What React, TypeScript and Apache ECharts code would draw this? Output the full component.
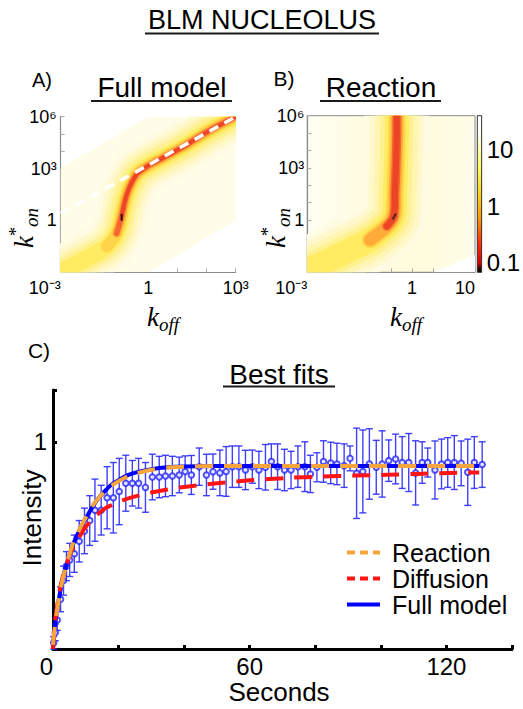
import React, { useEffect, useRef } from 'react';
import * as echarts from 'echarts';

const FONT = 'Liberation Sans, Arial, Helvetica, sans-serif';
const SERIF = 'Liberation Serif, DejaVu Serif, serif';

// ---------- Panel A (Full model) : misfit landscape ----------
const ridgeAKoff = [0.001, 0.006, 0.038, 0.083, 0.12, 0.14, 0.17, 0.24, 0.42, 0.9, 3.5, 16, 120, 1000];
const ridgeAKon = [0.001, 0.005, 0.031, 0.18, 1.5, 5, 20, 100, 500, 1300, 4500, 18600, 1.5e5, 1e6];
const domainAKoff = [0.001, 0.001, 1, 1000, 1000, 1];
const domainAKon = [0.001, 1000, 1e6, 1e6, 1, 0.001];
const dashedAKoff = [0.001, 1000];
const dashedAKon = [2.5, 1e6];
const bestAKoff = [0.123];
const bestAKon = [1.5];
const aXTickVals = [1e-3, 1, 1e3];
const aXTickText = ['10⁻³', '1', '10³'];
const kTickVals = [1, 1e3, 1e6];
const kTickText = ['1', '10³', '10⁶'];

// ---------- Panel B (Reaction) ----------
const ridgeBKoffPos = [0, 0.8, 1.72, 3.0, 3.79, 4.12, 4.18, 4.24, 4.27, 4.27];
const ridgeBKon = [0.00135, 0.0035, 0.0126, 0.074, 0.44, 1.66, 37, 3000, 1e5, 1e6];
const bestBKoffPos = [4.15];
const bestBKon = [1.6];
const cornerBKoffPos = [6, 8, 8];
const cornerBKon = [0.001, 0.001, 0.01];
const bXTickVals = [0, 5, 8];
const bXTickText = ['10⁻³', '1', '10'];
const cbTickVals = [0.1, 1, 10];
const cbTickText = ['0.1', '1', '10'];

// ---------- Panel C (Best fits) ----------
const timeSec = [0.2, 0.7, 1.3, 2.3, 3.2, 4.1, 5.1, 6.5, 8.0, 9.6, 11.2, 12.8, 14.7, 16.5, 18.4, 20.2, 22.2, 24.2, 26.1, 28.2, 30.3, 32.4, 34.3, 36.4, 38.5, 40.3, 42.2, 44.6, 46.8, 48.8, 50.9, 52.8, 54.7, 56.7, 58.7, 60.8, 62.8, 64.8, 66.6, 68.5, 70.6, 72.6, 74.7, 76.8, 78.5, 80.5, 82.5, 84.7, 86.6, 88.8, 90.6, 92.6, 94.5, 96.5, 98.6, 100.4, 102.4, 104.5, 106.5, 108.5, 110.6, 112.6, 114.3, 116.5, 118.5, 120.4, 122.4, 124.5, 126.5, 128.5, 130.9];
const meanInt = [0.03, 0.08, 0.14, 0.24, 0.33, 0.40, 0.43, 0.46, 0.52, 0.57, 0.62, 0.67, 0.67, 0.73, 0.73, 0.76, 0.80, 0.80, 0.80, 0.78, 0.83, 0.83, 0.835, 0.835, 0.84, 0.857, 0.84, 0.88, 0.84, 0.856, 0.85, 0.857, 0.88, 0.88, 0.864, 0.88, 0.864, 0.877, 0.905, 0.88, 0.864, 0.864, 0.88, 0.88, 0.845, 0.877, 0.905, 0.898, 0.893, 0.885, 0.92, 0.848, 0.857, 0.893, 0.877, 0.893, 0.909, 0.917, 0.90, 0.90, 0.85, 0.90, 0.90, 0.864, 0.893, 0.90, 0.90, 0.896, 0.853, 0.90, 0.89];
const errInt = [0.03, 0.04, 0.05, 0.06, 0.07, 0.07, 0.08, 0.09, 0.10, 0.11, 0.12, 0.15, 0.12, 0.15, 0.17, 0.16, 0.135, 0.11, 0.12, 0.12, 0.11, 0.10, 0.10, 0.095, 0.086, 0.075, 0.094, 0.09, 0.10, 0.085, 0.11, 0.12, 0.10, 0.10, 0.095, 0.08, 0.09, 0.11, 0.085, 0.11, 0.10, 0.09, 0.10, 0.12, 0.09, 0.07, 0.10, 0.10, 0.10, 0.105, 0.06, 0.218, 0.20, 0.17, 0.13, 0.16, 0.10, 0.12, 0.125, 0.14, 0.155, 0.10, 0.07, 0.14, 0.12, 0.12, 0.13, 0.108, 0.16, 0.125, 0.11];
const fitT = [0, 0.5, 1, 2, 3, 4, 5, 6, 8, 10, 12, 14, 16, 18, 20, 23, 26, 30, 35, 40, 50, 60, 72, 82, 92, 102, 111, 121, 130];
const fullModel = [0.0, 0.1, 0.16, 0.26, 0.34, 0.40, 0.45, 0.50, 0.57, 0.63, 0.685, 0.73, 0.765, 0.795, 0.815, 0.84, 0.855, 0.868, 0.877, 0.881, 0.883, 0.883, 0.883, 0.883, 0.883, 0.883, 0.883, 0.883, 0.883];
const reaction = [0.02, 0.1, 0.16, 0.26, 0.34, 0.40, 0.455, 0.505, 0.575, 0.635, 0.69, 0.73, 0.765, 0.79, 0.81, 0.835, 0.85, 0.865, 0.876, 0.88, 0.883, 0.883, 0.883, 0.883, 0.883, 0.883, 0.883, 0.883, 0.883];
const diffusion = [0.0, 0.12, 0.18, 0.28, 0.35, 0.40, 0.45, 0.485, 0.54, 0.59, 0.625, 0.655, 0.68, 0.695, 0.71, 0.727, 0.74, 0.755, 0.77, 0.782, 0.80, 0.814, 0.826, 0.832, 0.837, 0.841, 0.845, 0.85, 0.852];
const cXTickVals = [0, 60, 120];
const cYTickVals = [1];

// colour ramp of the glow around the ridges (outer -> inner), with stroke widths in px
const glowColors = ['#fffbe2', '#fff8cc', '#fff5b2', '#fff190', '#ffec62', '#ffd448', '#ffab3a', '#f5672e', '#ec4526'];
const glowWidthsA = [52, 42, 33, 25, 17, 12, 8.5, 5.5, 3.5];
const glowWidthsB = [66, 54, 43, 33, 24, 17, 12.5, 9, 6];
const glowStartA = [0, 0, 0, 0, 0, 2, 3, 3, 4];
const glowStartB = [0, 0, 0, 0, 0, 3, 3, 4, 4];

const near = (a: number, b: number) => Math.abs(a - b) < 1e-6 * Math.max(1, Math.abs(b));
const logFmt = (vals: number[], texts: string[]) => (v: number) => {
  const i = vals.findIndex((t) => Math.abs(Math.log10(v) - Math.log10(t)) < 1e-6);
  return i >= 0 ? texts[i] : '';
};
const linFmt = (vals: number[], texts: string[]) => (v: number) => {
  const i = vals.findIndex((t) => near(v, t));
  return i >= 0 ? texts[i] : '';
};
const pairs = (xs: number[], ys: number[], from = 0) => xs.slice(from).map((x, i) => [x, ys[from + i]]);

type Layer = { xs: number[]; ys: number[]; from?: number; width?: number; color: string; polygon?: boolean };

// One custom series per heat panel; layers are drawn through the axes (api.coord) and clipped to the grid.
function heatSeries(grid: number, layers: Layer[], z: number) {
  return {
    type: 'custom',
    xAxisIndex: grid,
    yAxisIndex: grid,
    data: [[layers[0].xs[0], layers[0].ys[0]]],
    silent: true,
    clip: true,
    z,
    renderItem: (_p: any, api: any) => ({
      type: 'group',
      children: layers.map((L) => {
        const from = L.from || 0;
        const pts = L.xs.slice(from).map((x, i) => api.coord([x, L.ys[from + i]]));
        if (L.polygon) return { type: 'polygon', shape: { points: pts }, style: { fill: L.color } };
        return {
          type: 'polyline',
          shape: { points: pts, smooth: 0.35 },
          style: { fill: null, stroke: L.color, lineWidth: L.width, lineCap: 'round', lineJoin: 'round' },
        };
      }),
    }),
  };
}
const ridgeLayers = (xs: number[], ys: number[], widths: number[], starts: number[]): Layer[] =>
  glowColors.map((color, i) => ({ xs, ys, from: starts[i], width: widths[i], color }));

const grayAxis = {
  axisLine: { show: true, onZero: false, lineStyle: { color: '#8a8a8a', width: 1.2 } },
  axisTick: { show: true, inside: true, length: 4, lineStyle: { color: '#aaaaaa', width: 1 } },
  splitLine: { show: false },
};
const tickFont = { fontSize: 18, color: '#000', fontFamily: FONT };

function buildOption() {
  const gText = (text: string, x: number, y: number, fontSize: number, rotation = 0) => ({
    type: 'text', x, y, rotation, silent: true,
    style: { text, fontSize, fontFamily: FONT, fill: '#000', align: 'center', verticalAlign: 'middle' },
  });
  const uLine = (x1: number, x2: number, y: number) => ({
    type: 'line', silent: true,
    shape: { x1, y1: y, x2, y2: y },
    style: { stroke: '#1a1a1a', lineWidth: 1.8 },
  });
  const kRich = {
    k: { fontSize: 27, fontStyle: 'italic', fontFamily: SERIF, lineHeight: 34, fill: '#000' },
    sup: { fontSize: 18, fontFamily: SERIF, lineHeight: 16, verticalAlign: 'top', fill: '#000' },
    sub: { fontSize: 19, fontStyle: 'italic', fontFamily: SERIF, lineHeight: 20, verticalAlign: 'bottom', fill: '#000' },
  };
  const kon = (x: number, y: number) => ({
    type: 'text', x, y, rotation: Math.PI / 2, silent: true,
    style: { text: '{k|k}{sup|*}{sub|on}', rich: kRich, align: 'center', verticalAlign: 'middle' },
  });
  const koff = (x: number, y: number) => ({
    type: 'text', x, y, silent: true,
    style: { text: '{k|k}{sub|off}', rich: kRich, align: 'center', verticalAlign: 'middle' },
  });

  const cbGradient = new echarts.graphic.LinearGradient(0, 0, 0, 1, [
    { offset: 0, color: '#ffffff' },
    { offset: 0.12, color: '#fffff0' },
    { offset: 0.33, color: '#ffff60' },
    { offset: 0.5, color: '#ffd21e' },
    { offset: 0.65, color: '#ff9a00' },
    { offset: 0.82, color: '#ff2a00' },
    { offset: 0.94, color: '#d80000' },
    { offset: 0.975, color: '#300000' },
    { offset: 1, color: '#000000' },
  ]);
  const bBg = new echarts.graphic.LinearGradient(0, 0, 1, 0, [
    { offset: 0, color: '#fffff4' },
    { offset: 0.4, color: '#fffbdc' },
    { offset: 0.65, color: '#fffbdc' },
    { offset: 1, color: '#fffde9' },
  ]);

  return {
    animation: false,
    backgroundColor: '#ffffff',
    grid: [
      { left: 60.7, top: 116.7, width: 175, height: 155.6 },
      { left: 307.3, top: 115.7, width: 167.7, height: 156.6, show: true, backgroundColor: bBg, borderColor: '#8a8a8a', borderWidth: 1 },
      { left: 477.3, top: 115.7, width: 5.6, height: 156.6, show: true, backgroundColor: cbGradient, borderColor: '#333', borderWidth: 1 },
      { left: 53, top: 390, width: 459, height: 259 },
    ],
    xAxis: [
      { gridIndex: 0, type: 'log', logBase: 10, min: 1e-3, max: 1e3, ...grayAxis,
        axisLabel: { ...tickFont, margin: 7, formatter: logFmt(aXTickVals, aXTickText), alignMinLabel: 'right' } },
      { gridIndex: 1, type: 'value', min: 0, max: 8, interval: 1, ...grayAxis,
        axisLabel: { ...tickFont, margin: 7, formatter: linFmt(bXTickVals, bXTickText), alignMinLabel: 'right', alignMaxLabel: 'right' } },
      { gridIndex: 2, type: 'value', min: 0, max: 1, show: false },
      { gridIndex: 3, type: 'value', min: 0, max: 140, interval: 20,
        axisLine: { show: true, onZero: false, lineStyle: { color: '#000', width: 3 } },
        axisTick: { show: true, inside: true, length: 4, lineStyle: { color: '#000', width: 3 } },
        splitLine: { show: false },
        axisLabel: { fontSize: 24, color: '#000', fontFamily: FONT, margin: 5, alignMinLabel: 'right',
          formatter: linFmt(cXTickVals, cXTickVals.map(String)) } },
    ],
    yAxis: [
      { gridIndex: 0, type: 'log', logBase: 10, min: 1e-3, max: 1e6, ...grayAxis,
        axisLabel: { ...tickFont, margin: 4, formatter: logFmt(kTickVals, kTickText) } },
      { gridIndex: 1, type: 'log', logBase: 10, min: 1e-3, max: 1e6, ...grayAxis,
        axisLabel: { ...tickFont, margin: 3, formatter: logFmt(kTickVals, kTickText) } },
      { gridIndex: 2, type: 'log', logBase: 10, min: 0.068, max: 40.5, position: 'right',
        axisLine: { show: false }, axisTick: { show: false }, splitLine: { show: false },
        axisLabel: { fontSize: 24, color: '#000', fontFamily: FONT, margin: 5, formatter: logFmt(cbTickVals, cbTickText) } },
      { gridIndex: 3, type: 'value', min: 0, max: 1.25, interval: 1,
        axisLine: { show: true, onZero: false, lineStyle: { color: '#000', width: 3 } },
        axisTick: { show: true, inside: true, length: 4, lineStyle: { color: '#000', width: 3 } },
        splitLine: { show: false },
        axisLabel: { fontSize: 24, color: '#000', fontFamily: FONT, margin: 6, formatter: linFmt(cYTickVals, ['1']) } },
    ],
    legend: {
      orient: 'vertical', left: 340, top: 535, itemWidth: 33, itemHeight: 14, itemGap: 1,
      selectedMode: false,
      textStyle: { fontSize: 25, color: '#000', fontFamily: FONT, lineHeight: 20, padding: [0, 0, 0, 7] },
      data: [
        { name: 'Reaction', itemStyle: { opacity: 0 }, lineStyle: { type: [8, 5], width: 4 } },
        { name: 'Diffusion', itemStyle: { opacity: 0 }, lineStyle: { type: [8, 5], width: 4 } },
        { name: 'Full model', itemStyle: { opacity: 0 }, lineStyle: { width: 4 } },
      ],
    },
    series: [
      // ---- panel A ----
      heatSeries(0, [
        { xs: domainAKoff, ys: domainAKon, color: '#fffce8', polygon: true },
        ...ridgeLayers(ridgeAKoff, ridgeAKon, glowWidthsA, glowStartA),
      ], 2),
      { type: 'line', xAxisIndex: 0, yAxisIndex: 0, data: pairs(dashedAKoff, dashedAKon), symbol: 'none', silent: true, z: 6,
        lineStyle: { color: '#ffffff', width: 3.5, type: [10, 7] } },
      { type: 'scatter', xAxisIndex: 0, yAxisIndex: 0, data: pairs(bestAKoff, bestAKon), symbol: 'rect', symbolSize: [2, 7], silent: true, z: 7,
        itemStyle: { color: '#000' } },
      // ---- panel B ----
      heatSeries(1, [
        { xs: cornerBKoffPos, ys: cornerBKon, color: '#ffffff', polygon: true },
        ...ridgeLayers(ridgeBKoffPos, ridgeBKon, glowWidthsB, glowStartB),
      ], 2),
      { type: 'scatter', xAxisIndex: 1, yAxisIndex: 1, data: pairs(bestBKoffPos, bestBKon), symbol: 'rect', symbolSize: [2, 7], symbolRotate: -30, silent: true, z: 7,
        itemStyle: { color: '#222' } },
      // ---- panel C ----
      {
        type: 'custom', xAxisIndex: 3, yAxisIndex: 3, silent: true, z: 2,
        data: timeSec.map((t, i) => [t, meanInt[i], errInt[i]]),
        encode: { x: 0, y: 1 },
        renderItem: (_p: any, api: any) => {
          const t = api.value(0), v = api.value(1), e = api.value(2);
          const top = api.coord([t, v + e]);
          const bot = api.coord([t, Math.max(0, v - e)]);
          const cw = 3.5;
          const style = { stroke: '#3030ff', lineWidth: 1.4, opacity: 0.92 };
          return {
            type: 'group',
            children: [
              { type: 'line', shape: { x1: top[0], y1: top[1], x2: bot[0], y2: bot[1] }, style },
              { type: 'line', shape: { x1: top[0] - cw, y1: top[1], x2: top[0] + cw, y2: top[1] }, style },
              { type: 'line', shape: { x1: bot[0] - cw, y1: bot[1], x2: bot[0] + cw, y2: bot[1] }, style },
            ],
          };
        },
      },
      { type: 'scatter', xAxisIndex: 3, yAxisIndex: 3, data: pairs(timeSec, meanInt), symbol: 'emptyCircle', symbolSize: 5.5, silent: true, z: 3,
        itemStyle: { color: '#2424ff', borderWidth: 1.2 } },
      { name: 'Full model', type: 'line', xAxisIndex: 3, yAxisIndex: 3, data: pairs(fitT, fullModel), symbol: 'none', smooth: 0.3, z: 4,
        itemStyle: { color: '#0000ff' }, lineStyle: { color: '#0000ff', width: 4 } },
      { name: 'Diffusion', type: 'line', xAxisIndex: 3, yAxisIndex: 3, data: pairs(fitT, diffusion), symbol: 'none', smooth: 0.3, z: 5,
        itemStyle: { color: '#ff1414' }, lineStyle: { color: '#ff1414', width: 4, type: [18, 11] } },
      { name: 'Reaction', type: 'line', xAxisIndex: 3, yAxisIndex: 3, data: pairs(fitT, reaction), symbol: 'none', smooth: 0.3, z: 6,
        itemStyle: { color: '#f5a53c' }, lineStyle: { color: '#f5a53c', width: 4, type: [18, 11] } },
    ],
    graphic: [
      gText('BLM NUCLEOLUS', 262, 20, 27),
      uLine(145, 379, 33.5),
      gText('A)', 42, 80, 20),
      gText('Full model', 162, 87, 28),
      uLine(91, 232, 101),
      gText('B)', 284, 78, 21),
      gText('Reaction', 381, 87, 28),
      uLine(320, 441, 101),
      gText('C)', 39, 350, 21),
      gText('Best fits', 279, 374, 28),
      uLine(223, 335, 386.5),
      kon(24, 228),
      kon(276, 228),
      koff(163, 317),
      koff(406, 317),
      gText('Intensity', 32, 518, 26, Math.PI / 2),
      gText('Seconds', 279, 692, 26),
    ],
  };
}

export default function App() {
  const ref = useRef<HTMLDivElement>(null);
  useEffect(() => {
    if (!ref.current) return;
    const chart = echarts.init(ref.current, undefined, { renderer: 'svg' });
    chart.setOption(buildOption() as any);
    return () => chart.dispose();
  }, []);
  return <div ref={ref} style={{ position: 'fixed', left: 0, top: 0, width: 523, height: 709 }} />;
}
